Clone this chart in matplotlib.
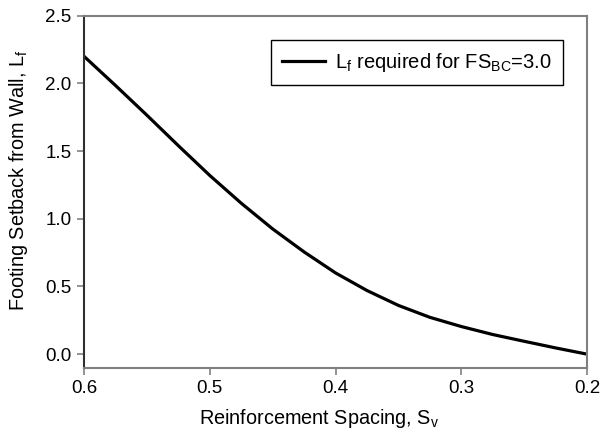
import matplotlib
matplotlib.use('Agg')
import matplotlib.pyplot as plt

plt.rcParams['font.family'] = ['Liberation Sans', 'DejaVu Sans']
plt.rcParams['mathtext.fontset'] = 'custom'
plt.rcParams['mathtext.rm'] = 'Liberation Sans'
plt.rcParams['mathtext.it'] = 'Liberation Sans'

# %% Données
spacing = [0.6, 0.575, 0.55, 0.525, 0.5, 0.475, 0.45, 0.425, 0.4,
           0.375, 0.35, 0.325, 0.3, 0.275, 0.25, 0.225, 0.2]
setback = [2.2, 1.985, 1.765, 1.54, 1.32, 1.115, 0.925, 0.755, 0.6,
           0.47, 0.36, 0.272, 0.204, 0.145, 0.095, 0.046, 0.0]
xticks = [0.6, 0.5, 0.4, 0.3, 0.2]
yticks = [0.0, 0.5, 1.0, 1.5, 2.0, 2.5]

# %% Figure
fig = plt.figure(figsize=(6.01, 4.34), dpi=100)
ax = fig.add_axes([0.1398, 0.1528, 0.837, 0.811])

ax.plot(spacing, setback, color='black', lw=2.3, solid_joinstyle='round',
        label=r'L$_\mathrm{f}$ required for FS$_\mathrm{BC}$=3.0')

ax.set_xlim(0.6, 0.2)
ax.set_ylim(-0.1, 2.5)
ax.set_xticks(xticks)
ax.set_yticks(yticks)
ax.set_xticklabels(['{:.1f}'.format(v) for v in xticks])
ax.set_yticklabels(['{:.1f}'.format(v) for v in yticks])
ax.tick_params(labelsize=13.5, color='#808080', length=5, width=1.2, pad=4)

for s in ['top', 'right', 'bottom']:
    ax.spines[s].set_color('#808080')
    ax.spines[s].set_linewidth(1.5)
ax.spines['left'].set_color('#303030')
ax.spines['left'].set_linewidth(1.5)

ax.set_xlabel(r'Reinforcement Spacing, S$_\mathrm{v}$', fontsize=14.3)
ax.set_ylabel(r'Footing Setback from Wall, L$_\mathrm{f}$', fontsize=14.3)
ax.xaxis.set_label_coords(0.467, -0.112)
ax.yaxis.set_label_coords(-0.108, 0.533)

leg = ax.legend(loc='upper right', bbox_to_anchor=(0.9517, 0.931), fontsize=14.5,
                fancybox=False, framealpha=1, edgecolor='black', borderaxespad=0,
                handlelength=2.1, handletextpad=0.5, borderpad=0.55)
leg.get_frame().set_linewidth(1.0)

fig.savefig('out.png', dpi=100)
